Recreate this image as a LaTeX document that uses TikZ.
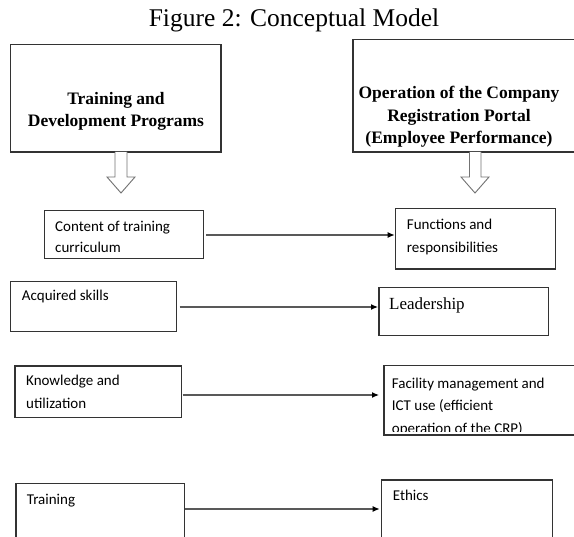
\documentclass[tikz,border=0pt]{standalone}
\usepackage{fontspec}
\setmainfont{Liberation Serif}
\newfontfamily\calib{Carlito}
\usetikzlibrary{calc,arrows.meta}
\tikzset{
  box/.style={draw=black!80, line width=1.1pt, inner sep=0pt, outer sep=0pt, anchor=north west},
  head/.style={font=\bfseries\fontsize{17.5}{22.5}\selectfont, align=center, inner sep=0pt, anchor=base},
  lbl/.style={font=\calib\fontsize{15}{22.5}\selectfont, align=left, inner sep=0pt, anchor=base west},
  conn/.style={draw=black!65, line width=1.2pt, -{Latex[length=7pt,width=6pt,black]}},
  blockarrow/.style={draw=black!55, line width=0.9pt, fill=white}
}
\begin{document}
\begin{tikzpicture}[x=1pt,y=1pt]
\useasboundingbox (0,0) rectangle (574,-537);
\clip (0,0) rectangle (574,-537);

\node[font=\fontsize{25.5}{30}\selectfont, anchor=base, inner sep=0pt] (title) at (294,-26.5) {Figure 2: Conceptual Model};

% top boxes
\node[box, minimum width=210.3pt, minimum height=107.5pt] (tdp) at (10.7,-44.5) {};
\node[head] (tdptext) at (116,-127) {Training and\\Development Programs};
\node[box, minimum width=247pt, minimum height=112.7pt] (crp) at (353,-39.3) {};
\node[head] (crptext) at (459,-144) {Operation of the Company\\Registration Portal\\(Employee Performance)};

% hollow arrows
\path[blockarrow] (115,-152) -- (115,-177) -- (107,-177) -- (121,-193) -- (135,-177) -- (127,-177) -- (127,-152);
\path[blockarrow] (469.5,-152) -- (469.5,-177) -- (461,-177) -- (475,-193) -- (489,-177) -- (481,-177) -- (481,-152);

% left boxes
\node[box, minimum width=159pt, minimum height=47.6pt] (content) at (44.3,-210.7) {};
\node[lbl, font=\calib\fontsize{15}{21}\selectfont] (contenttext) at (55,-253) {Content of training\\curriculum};
\node[box, minimum width=166pt, minimum height=50pt] (acquired) at (10.7,-281.7) {};
\node[lbl] (acquiredtext) at (21.7,-301) {Acquired skills};
\node[box, minimum width=166.7pt, minimum height=51.7pt] (knowledge) at (15,-366) {};
\node[lbl, font=\calib\fontsize{15}{23}\selectfont] (knowledgetext) at (26,-408.5) {Knowledge and\\utilization};
\node[box, minimum width=168.3pt, minimum height=80pt] (training) at (16,-483.3) {};
\node[lbl] (trainingtext) at (26.7,-505) {Training};

% right boxes
\node[box, minimum width=160pt, minimum height=60.7pt] (functions) at (395.7,-208.3) {};
\node[lbl, font=\calib\fontsize{15}{23}\selectfont] (functionstext) at (406.7,-252.5) {Functions and\\responsibilities};
\node[box, minimum width=169.3pt, minimum height=48.4pt] (leadership) at (379,-287.3) {};
\node[font=\fontsize{17}{20}\selectfont, anchor=base west, inner sep=0pt] (leadershiptext) at (389,-310) {Leadership};
\begin{scope}
  \clip (384,-365.7) rectangle (600,-432);
  \node[lbl] (facilitytext) at (391.7,-433.5) {Facility management and\\ICT use (efficient\\operation of the CRP)};
\end{scope}
\node[box, minimum width=216pt, minimum height=69.3pt] (facility) at (384,-365.7) {};
\node[box, minimum width=170.6pt, minimum height=80pt] (ethics) at (381.7,-480) {};
\node[lbl] (ethicstext) at (392.7,-501) {Ethics};

% connectors
\coordinate (r1) at (0,-235);
\coordinate (r2) at (0,-307);
\coordinate (r3) at (0,-395);
\coordinate (r4) at (0,-509);
\draw[conn] ($(content.east|-r1)+(3,0)$) -- ($(functions.west|-r1)+(-1,0)$);
\draw[conn] ($(acquired.east|-r2)+(3,0)$) -- ($(leadership.west|-r2)+(-1,0)$);
\draw[conn] ($(knowledge.east|-r3)+(1,0)$) -- ($(facility.west|-r3)+(-5,0)$);
\draw[conn] ($(training.east|-r4)+(1,0)$) -- ($(ethics.west|-r4)+(-2,0)$);
\end{tikzpicture}
\end{document}
